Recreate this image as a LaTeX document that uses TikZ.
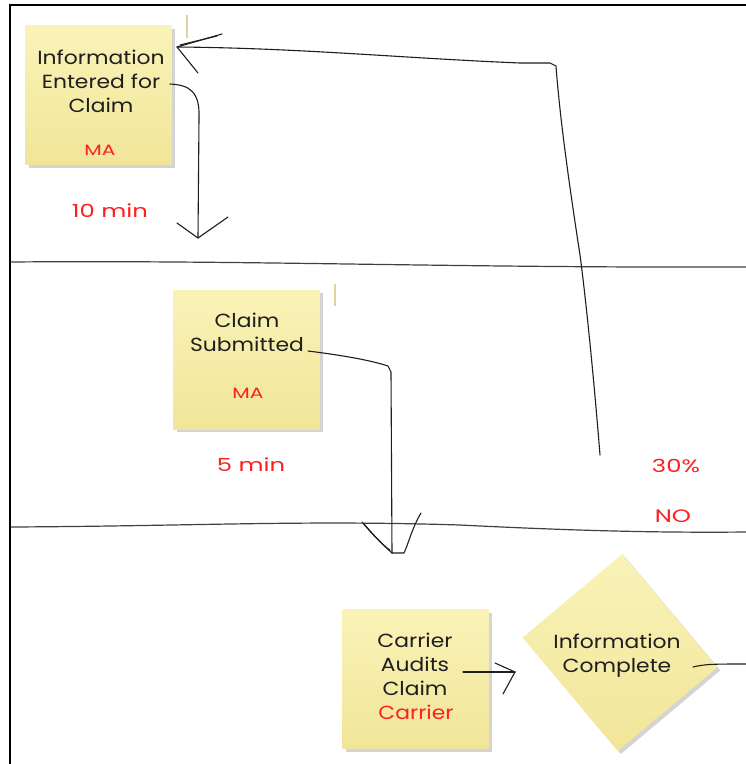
\documentclass[tikz,border=0pt]{standalone}
\usepackage{fontspec}
\setmainfont{Poppins}
\newfontfamily\handfont[FakeStretch=1.15]{Poppins}
\newfontfamily\tagfont[FakeStretch=1.35]{Poppins}
\usetikzlibrary{shadows}
\definecolor{notetop}{RGB}{250,243,184}
\definecolor{notebot}{RGB}{240,229,152}
\definecolor{ink}{RGB}{30,30,30}
\definecolor{redink}{RGB}{252,32,32}
\definecolor{tanline}{RGB}{224,210,160}
\begin{document}
\begin{tikzpicture}[x=1pt,y=-1pt,
  sticky/.style={rectangle, inner sep=0pt, minimum width=146pt, minimum height=139pt,
    top color=notetop, bottom color=notebot,
    drop shadow={shadow xshift=3pt, shadow yshift=-3pt, opacity=.3, fill=black!55}},
  hand/.style={font=\handfont\fontsize{19}{24}\selectfont, text=ink, align=center, inner sep=0pt},
  handred/.style={font=\handfont\fontsize{19}{24}\selectfont, text=redink, inner sep=0pt},
  tag/.style={font=\tagfont\fontsize{18}{20}\selectfont, text=redink, inner sep=0pt},
  smalltag/.style={font=\tagfont\fontsize{15}{17}\selectfont, text=redink, inner sep=0pt},
  pen/.style={draw=ink, line width=1.1pt, line cap=round, line join=round},
  lane/.style={draw=black!75, line width=1.2pt},
  frame/.style={draw=black, line width=1.3pt},
  tick/.style={draw=tanline, line width=1.6pt}]

% page
\path[use as bounding box, fill=white] (0,0) rectangle (746,764);

% outer frame (top and left edges)
\coordinate (fBL) at (10,764);
\coordinate (fTL) at (10,5);
\coordinate (fTR) at (746,5);
\draw[frame] (fBL) -- (fTL) -- (fTR);

% swim-lane separators
\coordinate (l1a) at (11,262);
\coordinate (l1b) at (746,267);
\coordinate (l2a) at (11,527);
\coordinate (l2b) at (746,532);
\draw[lane] (l1a) .. controls (250,260) and (450,268) .. (l1b);
\draw[lane] (l2a) .. controls (200,526) and (300,520) .. (460,525)
            .. controls (560,530) and (650,533) .. (l2b);

% small tan marks
\coordinate (k1a) at (187,15);  \coordinate (k1b) at (187,38);
\coordinate (k2a) at (335,284); \coordinate (k2b) at (335,306);
\draw[tick] (k1a) -- (k1b);
\draw[tick] (k2a) -- (k2b);

% sticky notes
\node[sticky] (n1) at (98.5,95) {};
\node[hand] (t1) at (101,81) {Information\\Entered for\\Claim};
\node[smalltag] (m1) at (100,150) {MA};

\node[sticky] (n2) at (246.5,359.5) {};
\node[hand] (t2) at (247,332) {Claim\\Submitted};
\node[smalltag] (m2) at (248,393) {MA};

\node[sticky] (n3) at (415.5,679) {};
\node[hand] (t3) at (415,664) {Carrier\\Audits\\Claim};
\node[handred] (m3) at (416,712) {Carrier};

\node[sticky, minimum width=130pt, minimum height=148pt, rotate=40] (n4) at (620,652.5) {};
\node[hand] (t4) at (617,656) {Information\\Complete};

% free labels
\node[tag] (d1) at (110,211) {10 min};
\node[tag] (d2) at (251,465) {5 min};
\node[tag] (p1) at (676,466) {30\%};
\node[tag] (p2) at (673,516) {NO};

% connector: information entered -> down
\coordinate (a0) at (170,84);
\coordinate (aT) at (198,238);
\coordinate (aL) at (177,223);
\coordinate (aR) at (228,217);
\draw[pen] (a0) .. controls (190,85) and (200,92) .. (199,118) -- (aT);
\draw[pen] (aL) -- (aT) -- (aR);

% connector: 30% NO loops back to information entered
\coordinate (b0) at (600,455);
\coordinate (bC) at (556,66);
\coordinate (bT) at (177,47);
\coordinate (bU) at (222,34);
\coordinate (bD) at (198,73);
\draw[pen] (b0) .. controls (594,380) and (586,300) .. (580,255)
           .. controls (570,190) and (560,120) .. (bC)
           -- (550,63) -- (520,63) .. controls (400,58) and (300,48) .. (bT);
\draw[pen] (bU) -- (bT) -- (bD);
\draw[pen] (217,36) -- (180,45);

% connector: claim submitted -> carrier lane
\coordinate (c0) at (308,351);
\coordinate (cT) at (392,553);
\draw[pen] (c0) .. controls (340,355) and (370,360) .. (388,366) -- (391,372) -- (cT);
\draw[pen] (362,522) .. controls (372,534) and (382,544) .. (cT);
\draw[pen] (421,513) .. controls (412,528) and (408,545) .. (404,553) -- (cT);
\draw[pen] (364,524) .. controls (376,538) and (386,548) .. (390,550);

% connector: carrier audits -> information complete
\coordinate (e0) at (463,672);
\coordinate (eT) at (515,672);
\draw[pen] (e0) -- (eT);
\draw[pen] (495,663) -- (eT) -- (503,694);

% connector: information complete -> onward
\coordinate (g0) at (693,667);
\coordinate (g1) at (746,664);
\draw[pen] (g0) .. controls (705,664) and (715,664) .. (g1);
\end{tikzpicture}
\end{document}
